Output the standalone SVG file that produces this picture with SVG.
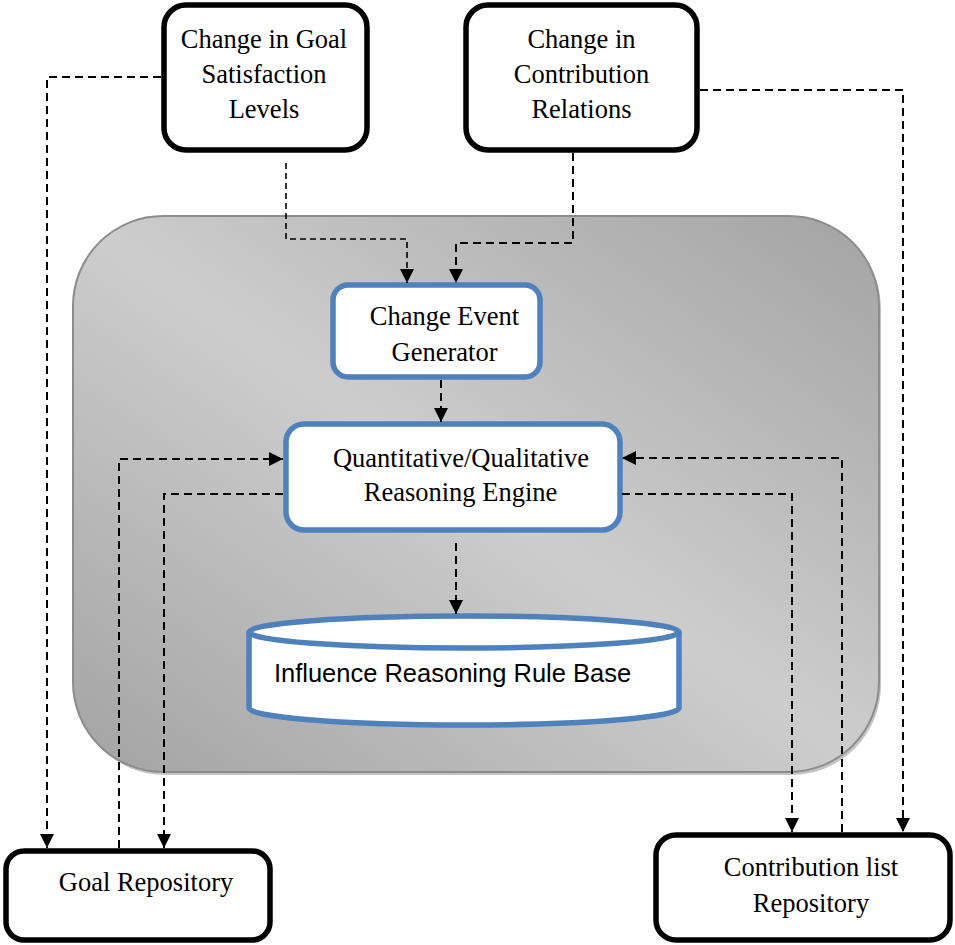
<svg xmlns="http://www.w3.org/2000/svg" width="955" height="945" viewBox="0 0 955 945">
<style>
.t{font-family:"Liberation Serif","Times New Roman",serif;font-size:26.5px;fill:#000;text-anchor:middle}
.s{font-family:"Liberation Sans",Arial,sans-serif;font-size:25.5px;fill:#000;text-anchor:middle}
.bk{fill:#fff;stroke:#000;stroke-width:5.5}
.bl{fill:#fff;stroke:#4F81BD;stroke-width:5.5}
.c{fill:none;stroke:#000;stroke-width:2;stroke-dasharray:8 5}
.cf{fill:none;stroke:#000;stroke-width:1.6;stroke-dasharray:6 4}
</style>
<defs>
<linearGradient id="g" x1="0" y1="1" x2="1" y2="0">
<stop offset="0" stop-color="#a3a3a3"/>
<stop offset="0.5" stop-color="#cdcdcd"/>
<stop offset="1" stop-color="#a3a3a3"/>
</linearGradient>
<marker id="ah" viewBox="0 0 14 14" refX="14" refY="7" markerWidth="14" markerHeight="14" orient="auto" markerUnits="userSpaceOnUse">
<path d="M0,0 L14,7 L0,14 z" fill="#000"/>
</marker>
</defs>
<g id="container">
<rect x="75" y="219" width="806" height="556" rx="90" fill="#c4c4c4"/>
<rect x="73" y="216" width="806" height="556" rx="90" fill="url(#g)" stroke="#8c8c8c" stroke-width="2"/>
</g>
<g id="goal-change">
<rect class="bk" x="164" y="5" width="203" height="145" rx="22"/>
<text class="t" x="264" y="48">Change in Goal</text>
<text class="t" x="264" y="83">Satisfaction</text>
<text class="t" x="264" y="118">Levels</text>
</g>
<g id="contrib-change">
<rect class="bk" x="466" y="5" width="231" height="145" rx="22"/>
<text class="t" x="581.5" y="48">Change in</text>
<text class="t" x="581.5" y="83">Contribution</text>
<text class="t" x="581.5" y="118">Relations</text>
</g>
<g id="ceg">
<rect class="bl" x="333" y="285" width="207" height="92" rx="15"/>
<text class="t" x="444.5" y="325">Change Event</text>
<text class="t" x="444.5" y="361">Generator</text>
</g>
<g id="qre">
<rect class="bl" x="286" y="424" width="334" height="106" rx="18"/>
<text class="t" x="461" y="467">Quantitative/Qualitative</text>
<text class="t" x="460.5" y="501">Reasoning Engine</text>
</g>
<g id="rulebase">
<path class="bl" d="M249,632 V708 A215,17 0 0 0 679,708 V632"/>
<ellipse class="bl" cx="464" cy="632" rx="215" ry="16"/>
<text class="s" x="452.5" y="682">Influence Reasoning Rule Base</text>
</g>
<g id="goal-repo">
<rect class="bk" x="6" y="851" width="264" height="89" rx="18"/>
<text class="t" x="146" y="891">Goal Repository</text>
</g>
<g id="contrib-repo">
<rect class="bk" x="656" y="835" width="294" height="105" rx="20"/>
<text class="t" x="811" y="876">Contribution list</text>
<text class="t" x="811" y="912">Repository</text>
</g>
<g id="connectors">
<path class="c" d="M161,77 H47 V848" marker-end="url(#ah)"/>
<path class="cf" d="M286,163 V239 H407 V283" marker-end="url(#ah)"/>
<path class="c" d="M573,153 V243 H456 V283" marker-end="url(#ah)"/>
<path class="c" d="M700,90 H903 V832" marker-end="url(#ah)"/>
<path class="c" d="M441,380 V422" marker-end="url(#ah)"/>
<path class="c" d="M119,848 V459 H283" marker-end="url(#ah)"/>
<path class="c" d="M283,494 H164 V848" marker-end="url(#ah)"/>
<path class="c" d="M842,832 V458 H622" marker-end="url(#ah)"/>
<path class="c" d="M622,494 H792 V832" marker-end="url(#ah)"/>
<path class="c" d="M456,543 V614" marker-end="url(#ah)"/>
</g>
</svg>
